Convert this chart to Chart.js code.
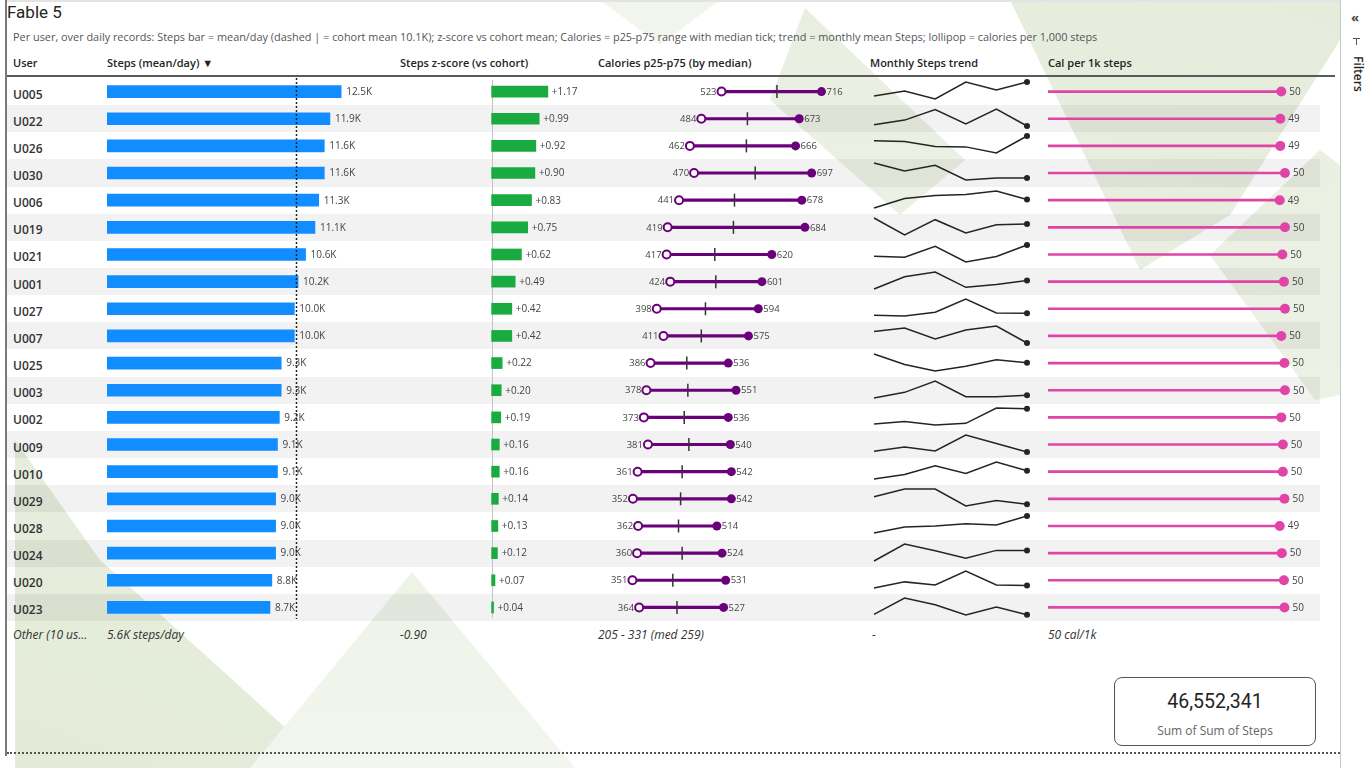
<!DOCTYPE html>
<html>
<head>
<meta charset="utf-8">
<title>Fable 5</title>
<script src="https://cdn.jsdelivr.net/npm/chart.js@4.4.1/dist/chart.umd.min.js"></script>
<style>
  body { margin: 0; width: 1366px; height: 768px; overflow: hidden; background: #fff;
         font-family: "Open Sans", sans-serif; color: #252423; position: relative; }
  .abs { position: absolute; white-space: nowrap; }
  .shape { position: absolute; left: 0; top: 0; width: 1366px; height: 768px; }
  .hdr { position: absolute; top: 54px; font-size: 11px; font-weight: 600; line-height: 18px; color: #252423; white-space: nowrap; }
  .user { position: absolute; left: 13px; font-size: 12px; font-weight: 600; line-height: 16px; color: #333; }
  .foot { position: absolute; top: 626px; font-size: 12px; font-style: italic; line-height: 18px; color: #333; white-space: nowrap; }
  canvas { position: absolute; }
</style>
</head>
<body>

<!-- report background (faded green shapes) -->
<div class="shape" style="clip-path: polygon(1010px 0, 1340px 0, 1340px 40px, 1230px 215px, 1140px 270px); background: linear-gradient(200deg, #e5ecdb, #f3f6ef);"></div>
<div class="shape" style="clip-path: polygon(1210px 255px, 1320px 150px, 1340px 165px, 1340px 395px, 1315px 400px); background: linear-gradient(160deg, #e3ead8, #f1f5ec);"></div>
<div class="shape" style="clip-path: polygon(805px 8px, 965px 160px, 900px 215px, 770px 100px); background: linear-gradient(180deg, #e8eee0, #f6f8f3);"></div>
<div class="shape" style="clip-path: polygon(600px 0, 720px 0, 660px 45px); background: #f1f5ec;"></div>
<div class="shape" style="clip-path: polygon(15px 440px, 100px 560px, 330px 768px, 15px 768px); background: linear-gradient(200deg, #f0f4ea, #e3ebd8);"></div>
<div class="shape" style="clip-path: polygon(412px 572px, 575px 768px, 250px 768px); background: linear-gradient(180deg, #e2eAd6, #f2f6ee);"></div>

<!-- frame -->
<div class="abs" style="left:5px;top:0;width:2px;height:756px;background:#7a7a7a"></div>
<div class="abs" style="left:7px;top:0;width:1333px;height:2px;background:#e3e3e3"></div>
<div class="abs" style="left:7px;top:752px;width:1333px;height:0;border-top:2px dotted #555"></div>
<div class="abs" style="left:1340px;top:0;width:26px;height:768px;background:#fff;border-left:1px solid #c8c8c8"></div>
<div class="abs" style="left:1351px;top:8px;font-size:13px;font-weight:700;color:#444">«</div>
<div class="abs" style="left:1353px;top:38px;width:7px;height:1px;background:#555"></div>
<div class="abs" style="left:1356px;top:38px;width:1px;height:7px;background:#555"></div>
<div class="abs" style="left:1347px;top:56px;font-size:12px;font-weight:600;color:#252423;transform-origin:0 0;transform:translate(20px,0) rotate(90deg)">Filters</div>

<!-- titles -->
<div class="abs" style="left:7px;top:2px;font-family:Roboto,sans-serif;font-size:17px;color:#252423">Fable 5</div>
<div class="abs" style="left:13px;top:29px;font-size:10.9px;color:#555">Per user, over daily records: Steps bar = mean/day (dashed | = cohort mean 10.1K); z-score vs cohort mean; Calories = p25-p75 range with median tick; trend = monthly mean Steps; lollipop = calories per 1,000 steps</div>

<div class="hdr" style="left:13px">User</div>
<div class="hdr" style="left:107px">Steps (mean/day) &#9660;</div>
<div class="hdr" style="left:400px">Steps z-score (vs cohort)</div>
<div class="hdr" style="left:598px">Calories p25-p75 (by median)</div>
<div class="hdr" style="left:870px">Monthly Steps trend</div>
<div class="hdr" style="left:1048px">Cal per 1k steps</div>
<div class="abs" style="left:7px;top:75px;width:1328px;height:2px;background:#5a5a5a"></div>

<div id="rows"></div>

<!-- KPI card -->
<div class="abs" style="left:1114px;top:677px;width:200px;height:67px;border:1px solid #555;border-radius:8px;background:#fff"></div>
<div class="abs" id="kpi" style="left:1114px;top:690px;width:202px;text-align:center;font-family:Roboto,sans-serif;font-size:19.5px;color:#252423"></div>
<div class="abs" style="left:1114px;top:722px;width:202px;text-align:center;font-size:12px;color:#666">Sum of Sum of Steps</div>

<script>
// ---- data ----
const users = ['U005', 'U022', 'U026', 'U030', 'U006', 'U019', 'U021', 'U001', 'U027', 'U007',
               'U025', 'U003', 'U002', 'U009', 'U010', 'U029', 'U028', 'U024', 'U020', 'U023'];
const stepsMean = [12500, 11900, 11600, 11600, 11300, 11100, 10600, 10200, 10000, 10000,
                   9300, 9300, 9200, 9100, 9100, 9000, 9000, 9000, 8800, 8700];
const cohortMeanSteps = 10100;
const zScores = [1.17, 0.99, 0.92, 0.90, 0.83, 0.75, 0.62, 0.49, 0.42, 0.42,
                 0.22, 0.20, 0.19, 0.16, 0.16, 0.14, 0.13, 0.12, 0.07, 0.04];
const calP25 = [523, 484, 462, 470, 441, 419, 417, 424, 398, 411, 386, 378, 373, 381, 361, 352, 362, 360, 351, 364];
const calMedian = [630, 573, 571, 588, 548, 546, 510, 512, 492, 484, 456, 458, 451, 460, 447, 444, 440, 447, 429, 437];
const calP75 = [716, 673, 666, 697, 678, 684, 620, 601, 594, 575, 536, 551, 536, 540, 542, 542, 514, 524, 531, 527];
const months = ['Jan', 'Feb', 'Mar', 'Apr', 'May', 'Jun'];
const monthlySteps = [
  [12050, 12450, 11800, 13200, 12550, 13200],
  [11350, 11700, 12500, 11400, 12550, 11250],
  [11850, 11800, 11425, 11400, 10950, 12200],
  [12200, 11600, 12025, 10925, 11075, 11075],
  [10600, 11300, 11525, 11600, 11850, 11225],
  [11725, 10475, 11600, 10625, 11225, 11275],
  [10475, 10400, 11200, 10050, 10450, 11300],
  [9625, 10525, 10875, 9750, 9950, 10250],
  [9575, 9525, 9800, 10750, 9750, 9725],
  [10200, 10450, 9650, 10300, 10600, 9350],
  [9975, 9200, 8725, 9075, 9550, 9325],
  [8800, 9225, 10075, 8900, 8900, 9000],
  [8750, 8950, 8675, 8800, 9975, 9925],
  [8700, 9025, 8725, 9950, 9300, 8650],
  [8500, 8825, 9475, 8900, 9750, 9100],
  [9025, 9600, 9600, 8350, 8750, 8475],
  [8450, 8875, 8950, 9125, 9025, 9675],
  [8325, 9525, 9050, 8525, 9075, 9075],
  [8425, 8875, 8650, 9675, 8650, 8600],
  [8200, 9425, 8925, 8150, 8750, 8175]
];
const calPer1k = [49.6, 49.4, 49.4, 50.3, 49.3, 50.3, 49.8, 50.1, 50.3, 49.6,
                  50.2, 50.3, 49.6, 49.9, 49.9, 50.2, 49.3, 49.7, 50.1, 50.2];
const otherRow = ['Other (10 us...', '5.6K steps/day', '-0.90', '205 - 331 (med 259)', '-', '50 cal/1k'];
const totalSteps = 46552341;

// ---- layout ----
const ROW_TOP = 78;
const ROW_H = 543 / 20;
const BLUE = '#118DFF', GREEN = '#1AAB40', PURPLE = '#6B007B', PINK = '#E044A7', INK = '#252423';
const FONT = '"Open Sans", sans-serif';
Chart.defaults.font.family = FONT;

const rowsDiv = document.getElementById('rows');
users.forEach((u, i) => {
  if (i % 2 === 1) {
    const s = document.createElement('div');
    s.className = 'abs';
    s.style.cssText = `left:7px;top:${ROW_TOP + i * ROW_H}px;width:1313px;height:${ROW_H}px;background:rgba(0,0,0,0.05)`;
    rowsDiv.appendChild(s);
  }
  const d = document.createElement('div');
  d.className = 'user';
  d.style.top = (ROW_TOP + i * ROW_H + ROW_H / 2 - 5) + 'px';
  d.textContent = u;
  rowsDiv.appendChild(d);
});
const footX = [13, 107, 400, 598, 872, 1048];
otherRow.forEach((t, i) => {
  const d = document.createElement('div');
  d.className = 'foot';
  d.style.left = footX[i] + 'px';
  d.textContent = t;
  rowsDiv.appendChild(d);
});
document.getElementById('kpi').textContent = totalSteps.toLocaleString('en-US');

function makeCanvas(left, top, w, h) {
  const c = document.createElement('canvas');
  c.width = w; c.height = h;
  c.style.left = left + 'px'; c.style.top = top + 'px';
  document.body.appendChild(c);
  return c;
}

function baseOptions(xMin, xMax) {
  return {
    indexAxis: 'y', responsive: false, animation: false, events: [],
    layout: { padding: 0, autoPadding: false },
    plugins: { legend: { display: false }, tooltip: { enabled: false } },
    scales: {
      x: { display: false, min: xMin, max: xMax },
      y: { display: false, offset: true }
    }
  };
}

// value labels next to the bar ends
function barLabels(fmt, dx, size) {
  return {
    id: 'barLabels',
    afterDatasetsDraw(chart) {
      const ctx = chart.ctx;
      const meta = chart.getDatasetMeta(0);
      ctx.save();
      ctx.font = `${size}px ${FONT}`;
      ctx.fillStyle = '#444';
      ctx.textBaseline = 'middle';
      meta.data.forEach((bar, i) => ctx.fillText(fmt(chart.data.datasets[0].data[i]), bar.x + dx, bar.y + 0.5));
      ctx.restore();
    }
  };
}

// --- Steps (mean/day) ---
new Chart(makeCanvas(107, ROW_TOP, 281, 543), {
  type: 'bar',
  data: { labels: users, datasets: [{ data: stepsMean, backgroundColor: BLUE, barThickness: 12 }] },
  options: baseOptions(0, 15000),
  plugins: [
    barLabels(v => (v / 1000).toFixed(1) + 'K', 5, 10),
    {
      id: 'meanLine',
      afterDatasetsDraw(chart) {
        const ctx = chart.ctx, a = chart.chartArea;
        const x = Math.round(chart.scales.x.getPixelForValue(cohortMeanSteps)) + 0.5;
        ctx.save();
        ctx.strokeStyle = INK; ctx.lineWidth = 1.5; ctx.setLineDash([2, 2]);
        ctx.beginPath(); ctx.moveTo(x, a.top); ctx.lineTo(x, a.bottom - 2); ctx.stroke();
        ctx.restore();
      }
    }
  ]
});

// --- Steps z-score ---
new Chart(makeCanvas(482, ROW_TOP, 125, 543), {
  type: 'bar',
  data: { labels: users, datasets: [{ data: zScores, backgroundColor: GREEN, barThickness: 11 }] },
  options: baseOptions(-0.2, 2.4),
  plugins: [
    barLabels(v => (v >= 0 ? '+' : '') + v.toFixed(2), 4, 10),
    {
      id: 'zeroLine',
      beforeDatasetsDraw(chart) {
        const ctx = chart.ctx, a = chart.chartArea;
        const x = Math.round(chart.scales.x.getPixelForValue(0)) + 0.5;
        ctx.save();
        ctx.strokeStyle = '#c4c4c4'; ctx.lineWidth = 1;
        ctx.beginPath(); ctx.moveTo(x, a.top + 2); ctx.lineTo(x, a.bottom - 3); ctx.stroke();
        ctx.restore();
      }
    }
  ]
});

// --- Calories p25-p75 with median tick ---
new Chart(makeCanvas(606, ROW_TOP, 259, 543), {
  type: 'bar',
  data: {
    labels: users,
    datasets: [
      { type: 'line', data: calP25.map((v, i) => ({ x: v, y: users[i] })), showLine: false, clip: false, order: 1,
        pointRadius: 4, pointBorderWidth: 2, pointBorderColor: PURPLE, pointBackgroundColor: '#fff' },
      { type: 'line', data: calP75.map((v, i) => ({ x: v, y: users[i] })), showLine: false, clip: false, order: 1,
        pointRadius: 4.5, pointBorderWidth: 0, pointBackgroundColor: PURPLE },
      { type: 'line', data: calMedian.map((v, i) => ({ x: v, y: users[i] })), showLine: false, clip: false, order: 2,
        pointStyle: 'line', rotation: 90, pointRadius: 6.5, pointBorderWidth: 1.5, pointBorderColor: '#333' },
      { type: 'bar', data: calP25.map((v, i) => [v, calP75[i]]), backgroundColor: PURPLE, barThickness: 2.5, order: 3 }
    ]
  },
  options: baseOptions(300, 800),
  plugins: [{
    id: 'calLabels',
    afterDatasetsDraw(chart) {
      const ctx = chart.ctx, xs = chart.scales.x, ys = chart.scales.y;
      ctx.save();
      ctx.font = `9.5px ${FONT}`;
      ctx.fillStyle = '#444';
      ctx.textBaseline = 'middle';
      users.forEach((u, i) => {
        const y = ys.getPixelForValue(i) + 0.5;
        ctx.textAlign = 'right';
        ctx.fillText(String(calP25[i]), xs.getPixelForValue(calP25[i]) - 5, y);
        ctx.textAlign = 'left';
        ctx.fillText(String(calP75[i]), xs.getPixelForValue(calP75[i]) + 5, y);
      });
      ctx.restore();
    }
  }]
});

// --- Monthly Steps trend (one sparkline per row) ---
monthlySteps.forEach((series, i) => {
  new Chart(makeCanvas(870, Math.round(ROW_TOP + i * ROW_H), 162, 27), {
    type: 'line',
    data: {
      labels: months,
      datasets: [{
        data: series, borderColor: INK, borderWidth: 1.5, tension: 0, clip: false,
        pointRadius: ctx => (ctx.dataIndex === series.length - 1 ? 3 : 0),
        pointBackgroundColor: INK, pointBorderWidth: 0
      }]
    },
    options: {
      responsive: false, animation: false, events: [],
      layout: { padding: { left: 4, right: 5, top: 4, bottom: 6 }, autoPadding: false },
      plugins: { legend: { display: false }, tooltip: { enabled: false } },
      scales: { x: { display: false }, y: { display: false, bounds: 'data' } }
    }
  });
});

// --- Cal per 1k steps (lollipop) ---
new Chart(makeCanvas(1048, ROW_TOP, 272, 543), {
  type: 'bar',
  data: {
    labels: users,
    datasets: [
      { type: 'line', data: calPer1k.map((v, i) => ({ x: v, y: users[i] })), showLine: false, clip: false, order: 1,
        pointRadius: 5, pointBorderWidth: 0, pointBackgroundColor: PINK },
      { type: 'bar', data: calPer1k, backgroundColor: PINK, barThickness: 2, order: 2 }
    ]
  },
  options: baseOptions(5, 57),
  plugins: [{
    id: 'lolliLabels',
    afterDatasetsDraw(chart) {
      const ctx = chart.ctx, xs = chart.scales.x, ys = chart.scales.y;
      ctx.save();
      ctx.font = `10px ${FONT}`;
      ctx.fillStyle = '#444';
      ctx.textBaseline = 'middle';
      calPer1k.forEach((v, i) => ctx.fillText(v.toFixed(0), xs.getPixelForValue(v) + 8, ys.getPixelForValue(i) + 0.5));
      ctx.restore();
    }
  }]
});
</script>
</body>
</html>
